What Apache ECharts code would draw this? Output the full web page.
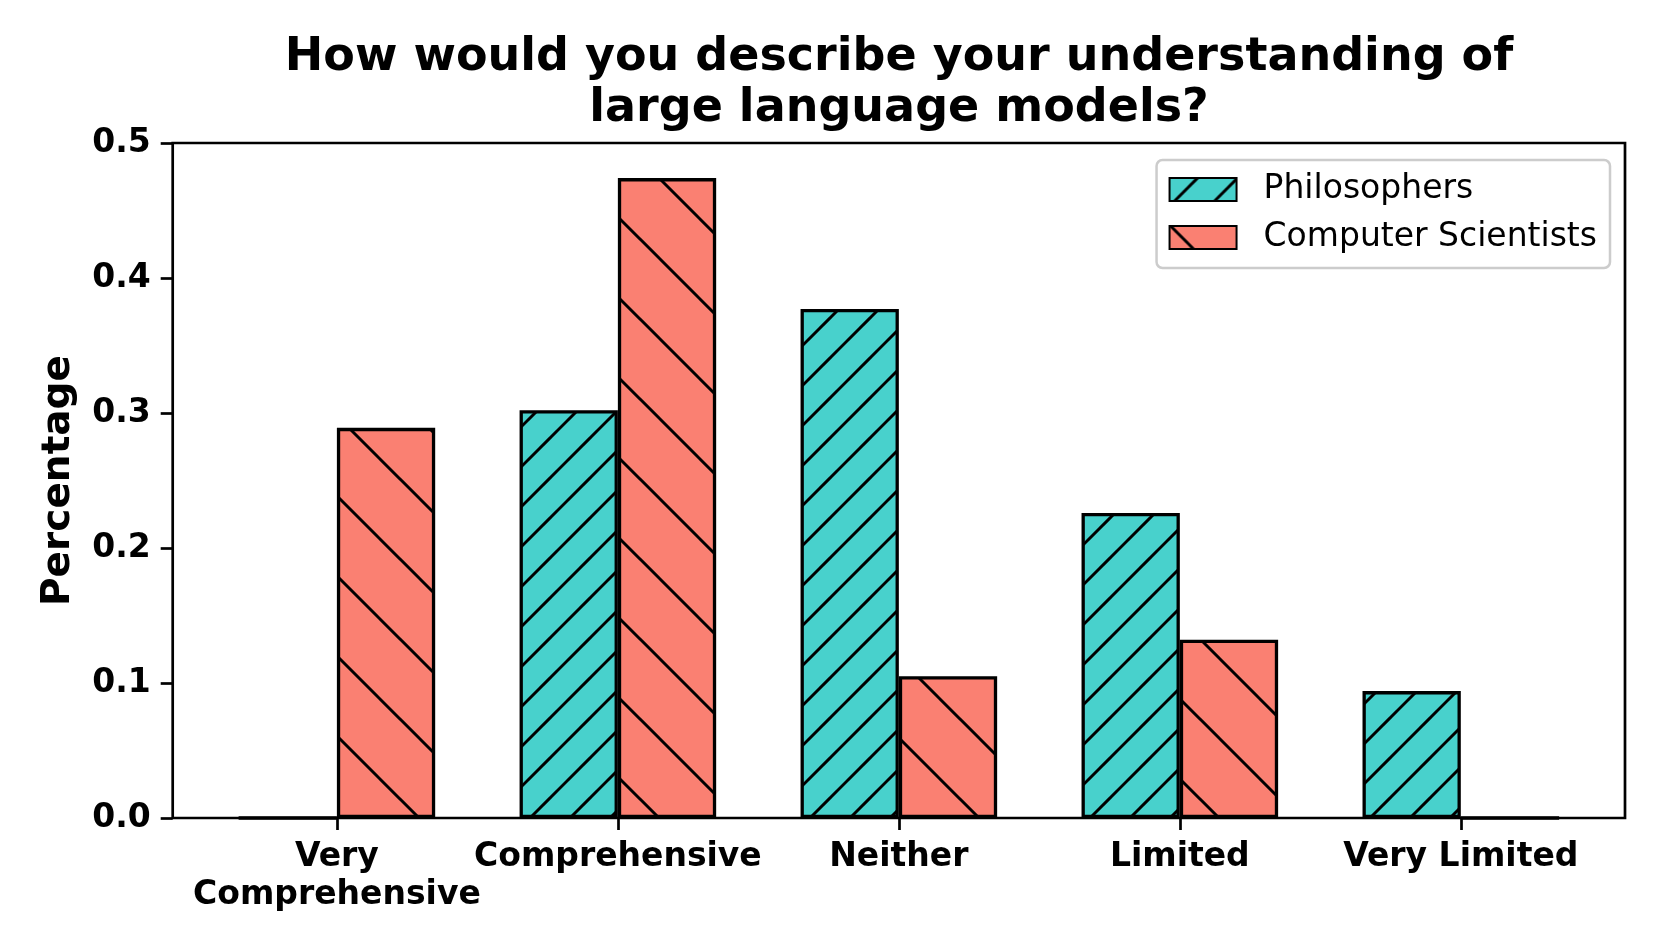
<!DOCTYPE html>
<html>
<head>
<meta charset="utf-8">
<script src="https://cdn.jsdelivr.net/npm/echarts@6/dist/echarts.min.js"></script>
<style>
  html, body { margin: 0; padding: 0; background: #fff; }
  #chart { width: 1661px; height: 949px; }
</style>
</head>
<body>
<div id="chart"></div>
<script>
const categories = ["Very\nComprehensive", "Comprehensive", "Neither", "Limited", "Very Limited"];
const philosophers = [0, 0.302, 0.377, 0.226, 0.094];
const computerScientists = [0.289, 0.474, 0.105, 0.132, 0];
const yTicks = [0, 0.1, 0.2, 0.3, 0.4, 0.5];

const font = "DejaVu Sans";

// hatch fill like matplotlib: a tile repeated from the canvas origin
function hatch(fill, size, dir, phase) {
  const c = document.createElement("canvas");
  c.width = size;
  c.height = size;
  const ctx = c.getContext("2d");
  ctx.fillStyle = fill;
  ctx.fillRect(0, 0, size, size);
  ctx.strokeStyle = "#000";
  ctx.lineWidth = 3;
  for (let k = -2; k <= 2; k++) {
    const o = phase + k * size;
    ctx.beginPath();
    if (dir === "/") {
      // x + y = o
      ctx.moveTo(o + size, -size);
      ctx.lineTo(o - size * 2, size * 2);
    } else {
      // y - x = o
      ctx.moveTo(-size, o - size);
      ctx.lineTo(size * 2, o + size * 2);
    }
    ctx.stroke();
  }
  return { image: c, repeat: "repeat" };
}

const tealFill = hatch("#48D1CC", 40, "/", 28);
const salmonFill = hatch("#FA8072", 80, "\\", -1);

const chart = echarts.init(document.getElementById("chart"));
const option = {
  animation: false,
  backgroundColor: "#fff",
  title: {
    text: "How would you describe your understanding of\nlarge language models?",
    left: 899,
    top: 33,
    textAlign: "center",
    padding: 0,
    textStyle: {
      fontFamily: font,
      fontWeight: "bold",
      fontSize: 46,
      lineHeight: 51,
      color: "#000",
    },
  },
  legend: {
    orient: "vertical",
    right: 51,
    top: 160,
    padding: [13, 13, 14, 12],
    icon: "rect",
    itemWidth: 67,
    itemHeight: 23,
    itemGap: 15,
    borderColor: "#cccccc",
    borderWidth: 2.5,
    borderRadius: 6,
    backgroundColor: "#fff",
    selectedMode: false,
    textStyle: {
      fontFamily: font,
      fontSize: 33,
      lineHeight: 33,
      color: "#000",
      padding: [0, 0, 0, 22],
    },
    data: ["Philosophers", "Computer Scientists"],
  },
  grid: [
    {
      left: 172.7,
      right: 36,
      top: 143,
      bottom: 131,
      show: true,
      borderColor: "#000",
      borderWidth: 2.7,
      backgroundColor: "transparent",
    },
    { left: 196.4, right: 59.7, top: 143, bottom: 131 },
  ],
  xAxis: [
    { gridIndex: 0, type: "value", min: 0, max: 1, show: false },
    {
      gridIndex: 1,
      type: "category",
      data: categories,
      axisLine: { show: false },
      axisTick: {
        show: true,
        alignWithLabel: true,
        inside: false,
        length: 12,
        lineStyle: { color: "#000", width: 2.7 },
      },
      axisLabel: {
        interval: 0,
        margin: 20,
        fontFamily: font,
        fontWeight: "bold",
        fontSize: 33,
        lineHeight: 38,
        color: "#000",
      },
      splitLine: { show: false },
    },
  ],
  yAxis: [
    {
      gridIndex: 0,
      type: "value",
      min: 0,
      max: 0.5,
      interval: 0.1,
      name: "Percentage",
      nameLocation: "middle",
      nameGap: 94,
      nameTextStyle: {
        fontFamily: font,
        fontWeight: "bold",
        fontSize: 39,
        color: "#000",
      },
      axisLine: { show: false },
      axisTick: {
        show: true,
        inside: false,
        length: 12,
        lineStyle: { color: "#000", width: 2.7 },
      },
      axisLabel: {
        margin: 22,
        fontFamily: font,
        fontWeight: "bold",
        fontSize: 33,
        color: "#000",
        formatter: (v) => {
          const t = yTicks.find((y) => Math.abs(y - v) < 1e-9);
          return (t !== undefined ? t : v).toFixed(1);
        },
      },
      splitLine: { show: false },
    },
    { gridIndex: 1, type: "value", min: 0, max: 0.5, show: false },
  ],
  series: [
    {
      name: "Philosophers",
      type: "bar",
      xAxisIndex: 1,
      yAxisIndex: 1,
      data: philosophers,
      barWidth: 98.3,
      barGap: "0%",
      itemStyle: { color: tealFill, borderColor: "#000", borderWidth: 3.3 },
      emphasis: { disabled: true },
    },
    {
      name: "Computer Scientists",
      type: "bar",
      xAxisIndex: 1,
      yAxisIndex: 1,
      data: computerScientists,
      barWidth: 98.3,
      barGap: "0%",
      itemStyle: { color: salmonFill, borderColor: "#000", borderWidth: 3.3 },
      emphasis: { disabled: true },
    },
  ],
};
chart.setOption(option);
</script>
</body>
</html>
